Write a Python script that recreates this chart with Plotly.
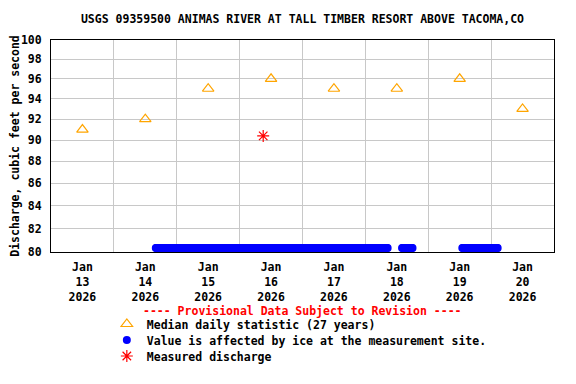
import plotly.graph_objects as go
import pandas as pd
import math

# ---- data ----
title_text = "USGS 09359500 ANIMAS RIVER AT TALL TIMBER RESORT ABOVE TACOMA,CO"

median_dates = ["2026-01-13 12:00", "2026-01-14 12:00", "2026-01-15 12:00", "2026-01-16 12:00",
                "2026-01-17 12:00", "2026-01-18 12:00", "2026-01-19 12:00", "2026-01-20 12:00"]
median_values = [91, 92, 95, 96, 95, 95, 96, 93]

measured_times = ["2026-01-16 09:00"]
measured_values = [90.4]

# ice-affected 15-minute values, plotted along the bottom of the chart
ice_segment_starts = ["2026-01-14 16:00", "2026-01-18 14:00", "2026-01-19 13:00"]
ice_segment_ends = ["2026-01-18 08:30", "2026-01-18 18:00", "2026-01-20 02:30"]
ice_plot_value = 80.34

tick_dates = median_dates
tick_labels = ["Jan<br>13<br>2026", "Jan<br>14<br>2026", "Jan<br>15<br>2026", "Jan<br>16<br>2026",
               "Jan<br>17<br>2026", "Jan<br>18<br>2026", "Jan<br>19<br>2026", "Jan<br>20<br>2026"]
grid_dates = ["2026-01-14", "2026-01-15", "2026-01-16", "2026-01-17",
              "2026-01-18", "2026-01-19", "2026-01-20"]
y_ticks = [80, 82, 84, 86, 88, 90, 92, 94, 96, 98, 100]
y_min, y_max = 80, 100

# build ice series
ice_times = []
for s, e in zip(ice_segment_starts, ice_segment_ends):
    ice_times.extend(pd.date_range(s, e, freq="15min"))
ice_values = [ice_plot_value] * len(ice_times)

FONT = "DejaVu Sans Mono"
PLOT_H = 212.0
PAGE_OFFSET = 8  # default body margin of the html page


def py(pixel_y):
    # paper y for a window pixel row (plot bottom at 252 px in the window)
    return (252 - pixel_y) / PLOT_H


fig = go.Figure()
fig.add_trace(go.Scatter(
    x=median_dates, y=median_values, mode="markers",
    name="Median daily statistic (27 years)", legend="legend",
    marker=dict(symbol="triangle-up-open", size=10, color="#FFA500", line=dict(width=1.2, color="#FFA500")),
))
fig.add_trace(go.Scatter(
    x=ice_times, y=ice_values, mode="markers",
    name="Value is affected by ice at the measurement site.", legend="legend2",
    marker=dict(symbol="circle", size=8, color="#0000FF", line=dict(width=0)),
))
fig.add_trace(go.Scatter(
    x=measured_times, y=measured_values, mode="markers",
    name="Measured discharge", legend="legend3",
    marker=dict(symbol="asterisk-open", size=10, color="#FF0000", line=dict(width=1.2, color="#FF0000")),
))

legend_font = dict(family=FONT, size=11.5, color="black", weight="bold")
legend_x = 0.111


def make_legend(pixel_y):
    return dict(x=legend_x, xanchor="left", y=py(pixel_y), yanchor="middle",
                bgcolor="rgba(0,0,0,0)", font=legend_font, borderwidth=0)


fig.update_layout(
    width=576 - 2 * PAGE_OFFSET, height=384 - PAGE_OFFSET,
    margin=dict(l=51 - PAGE_OFFSET, r=22 - PAGE_OFFSET, t=40 - PAGE_OFFSET, b=132,
                autoexpand=False),
    paper_bgcolor="white", plot_bgcolor="white",
    font=dict(family=FONT, size=11.5, color="black", weight="bold"),
    title=dict(text=title_text, x=0.5, xref="paper", xanchor="center",
               y=1 - (19 - PAGE_OFFSET) / (384 - PAGE_OFFSET), yanchor="middle", yref="container",
               font=dict(family=FONT, size=11.5, color="black", weight="bold")),
    showlegend=True,
    legend=make_legend(324),
    legend2=make_legend(340),
    legend3=make_legend(356),
    xaxis=dict(
        type="date",
        range=["2026-01-13 00:00", "2026-01-21 00:00"],
        tickmode="array", tickvals=tick_dates, ticktext=tick_labels,
        showgrid=False, ticks="", ticklabelstandoff=4,
        showline=True, linecolor="black", linewidth=1, mirror=True,
        zeroline=False,
        minor=dict(tickmode="array", tickvals=grid_dates, showgrid=True,
                   gridcolor="#C8C8C8", gridwidth=1, ticks=""),
    ),
    yaxis=dict(
        type="log",
        range=[math.log10(y_min), math.log10(y_max)],
        tickmode="array", tickvals=y_ticks, ticktext=[str(v) for v in y_ticks],
        showgrid=True, gridcolor="#C8C8C8", gridwidth=1,
        ticks="", ticklabelstandoff=6,
        showline=True, linecolor="black", linewidth=1, mirror=True,
        zeroline=False,
        title=dict(text="Discharge, cubic feet per second", standoff=2,
                   font=dict(family=FONT, size=11.5, color="black", weight="bold")),
    ),
)

fig.add_annotation(
    text="---- Provisional Data Subject to Revision ----",
    x=0.5, xref="paper", xanchor="center",
    y=py(311), yref="paper", yanchor="middle",
    showarrow=False,
    font=dict(family=FONT, size=11.5, color="#FF0000", weight="bold"),
)

fig.write_html("out.html")
